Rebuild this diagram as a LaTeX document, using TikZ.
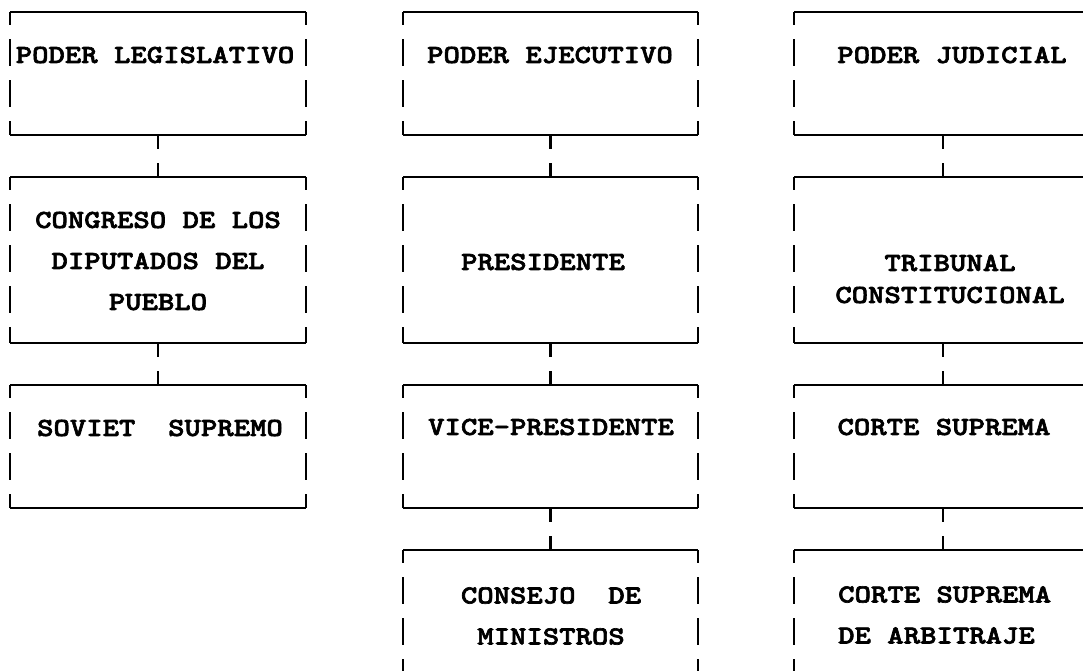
\documentclass[tikz,border=0pt]{standalone}
\usepackage{fontspec}
\newfontfamily\typewriter{lmmonolt10-bold.otf}[FakeStretch=1.2, FakeBold=2.5]
\tikzset{
  box/.style={rectangle, inner sep=0pt, outer sep=0pt},
  hline/.style={line width=1.8pt},
  vline/.style={line width=2.5pt, dash pattern=on 27pt off 14pt, dash phase=14pt},
  link/.style={line width=2.5pt, dash pattern=on 14pt off 14pt},
  lbl/.style={inner sep=0pt, align=center, font=\typewriter\fontsize{26}{41}\selectfont}
}
\begin{document}
\begin{tikzpicture}[x=1pt,y=-1pt]
\useasboundingbox (0,0) rectangle (1083,670);
\clip (0,0) rectangle (1083,670);

\node[box, minimum width=296pt, minimum height=123pt] (legislativo) at (158,73.5) {};
\node[box, minimum width=296pt, minimum height=166pt] (congreso) at (158,260) {};
\node[box, minimum width=296pt, minimum height=123pt] (soviet) at (158,446.5) {};
\node[lbl] (legislativo-t) at (155,55) {PODER LEGISLATIVO};
\node[lbl] (congreso-t) at (158,261) {CONGRESO DE LOS\\DIPUTADOS DEL\\PUEBLO};
\node[lbl] (soviet-t) at (160,428) {SOVIET\ \ SUPREMO};
\draw[link] (legislativo) -- (congreso);
\draw[link] (congreso) -- (soviet);

\node[box, minimum width=295pt, minimum height=123pt] (ejecutivo) at (550.5,73.5) {};
\node[box, minimum width=295pt, minimum height=166pt] (presidente) at (550.5,260) {};
\node[box, minimum width=295pt, minimum height=123pt] (vice) at (550.5,446.5) {};
\node[box, minimum width=295pt, minimum height=166pt] (consejo) at (550.5,633) {};
\node[lbl] (ejecutivo-t) at (550,55) {PODER EJECUTIVO};
\node[lbl] (presidente-t) at (543,262) {PRESIDENTE};
\node[lbl] (vice-t) at (551,427) {VICE-PRESIDENTE};
\node[lbl] (consejo-t) at (551,616) {CONSEJO\ \ DE\\MINISTROS};
\draw[link] (ejecutivo) -- (presidente);
\draw[link] (presidente) -- (vice);
\draw[link] (vice) -- (consejo);

\node[box, minimum width=298pt, minimum height=123pt] (judicial) at (943,73.5) {};
\node[box, minimum width=298pt, minimum height=166pt] (tribunal) at (943,260) {};
\node[box, minimum width=298pt, minimum height=123pt] (corte) at (943,446.5) {};
\node[box, minimum width=298pt, minimum height=166pt] (arbitraje) at (943,633) {};
\node[lbl] (judicial-t) at (952,55) {PODER JUDICIAL};
\node[lbl] (tribunal-t) at (950,279) {TRIBUNAL\\[-9pt]CONSTITUCIONAL};
\node[lbl] (corte-t) at (944,427) {CORTE SUPREMA};
\node[lbl, align=left, anchor=west] (arbitraje-t) at (838,615) {CORTE SUPREMA\\DE ARBITRAJE};
\draw[link] (judicial) -- (tribunal);
\draw[link] (tribunal) -- (corte);
\draw[link] (corte) -- (arbitraje);

% marcos
\foreach \b in {legislativo,congreso,soviet,ejecutivo,presidente,vice,consejo,judicial,tribunal,corte,arbitraje}{
  \draw[hline] (\b.north west) -- (\b.north east) (\b.south west) -- (\b.south east);
  \draw[vline] (\b.north west) -- (\b.south west) (\b.north east) -- (\b.south east);
}

\end{tikzpicture}
\end{document}
